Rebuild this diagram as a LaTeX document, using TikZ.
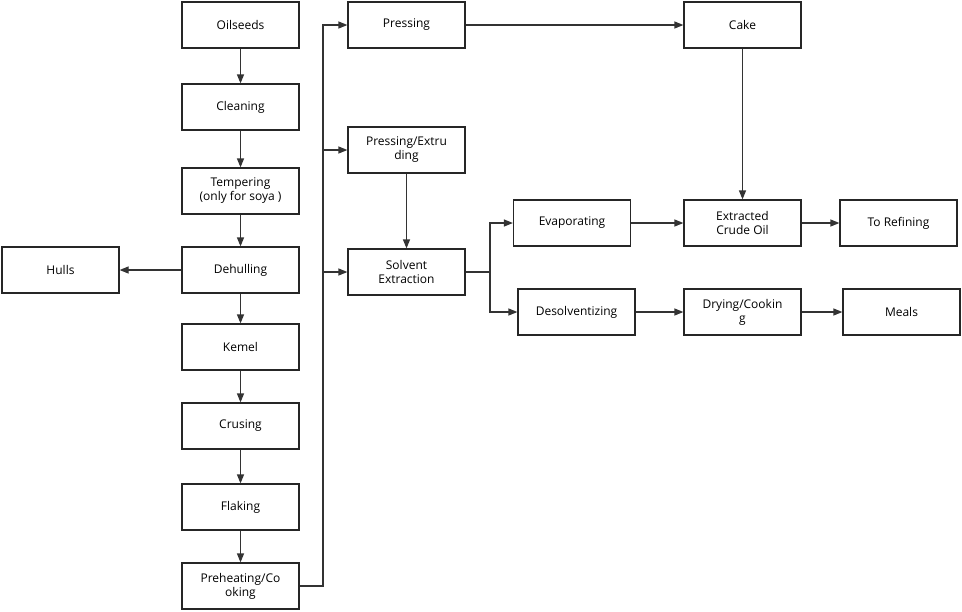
\documentclass[tikz,border=0pt]{standalone}
\usepackage{fontspec}
\setmainfont{Open Sans}
\usetikzlibrary{arrows.meta}
\tikzset{
  box/.style={draw=black!85, line width=1.2pt, minimum width=117pt, minimum height=46pt,
    align=center, inner sep=1pt, font=\fontsize{12}{14}\selectfont},
  flow/.style={-{Triangle[length=9pt,width=7pt]}, draw=black!80, line width=1.2pt}
}
\begin{document}
\begin{tikzpicture}[x=1pt,y=-1pt]
\useasboundingbox (0,0) rectangle (962,611);
% left column
\node (oil)   at (240.5,25)  [box] {Oilseeds};
\node (clean) at (240.5,107) [box] {Cleaning};
\node (temp)  at (240.5,191) [box] {Tempering\\(only for soya )};
\node (dehul) at (240.5,270) [box] {Dehulling};
\node (kern)  at (240.5,347) [box] {Kemel};
\node (crus)  at (240.5,426) [box] {Crusing};
\node (flak)  at (240.5,507) [box] {Flaking};
\node (preh)  at (240.5,586) [box] {Preheating/Co\\oking};
\node (hull)  at (60.5,270)  [box] {Hulls};
% middle
\node (press) at (406.5,25)  [box] {Pressing};
\node (extr)  at (406.5,150) [box] {Pressing/Extru\\ding};
\node (solv)  at (406.5,272) [box] {Solvent\\Extraction};
% right
\node (cake)  at (742.5,25)  [box] {Cake};
\node (evap)  at (572,223)   [box] {Evaporating};
\node (crude) at (742.5,223) [box] {Extracted\\Crude Oil};
\node (refin) at (898.5,223) [box] {To Refining};
\node (desol) at (576.5,312) [box] {Desolventizing};
\node (dry)   at (742.5,312) [box] {Drying/Cookin\\g};
\node (meal)  at (901.5,312) [box] {Meals};

% bus lines
\coordinate (busA) at (323,586);
\coordinate (busB) at (490,272);

\draw[flow] (oil) -- (clean);
\draw[flow] (clean) -- (temp);
\draw[flow] (temp) -- (dehul);
\draw[flow] (dehul) -- (kern);
\draw[flow] (kern) -- (crus);
\draw[flow] (crus) -- (flak);
\draw[flow] (flak) -- (preh);
\draw[flow] (dehul) -- (hull);

\draw[flow] (preh.east) -| (busA |- press.west) -- (press.west);
\draw[flow] (busA |- extr.west) -- (extr.west);
\draw[flow] (busA |- solv.west) -- (solv.west);

\draw[flow] (press) -- (cake);
\draw[flow] (extr) -- (solv);
\draw[flow] (solv.east) -- (busB) |- (evap.west);
\draw[flow] (busB) |- (desol.west);
\draw[flow] (cake) -- (crude);
\draw[flow] (evap) -- (crude);
\draw[flow] (crude) -- (refin);
\draw[flow] (desol) -- (dry);
\draw[flow] (dry) -- (meal);
\end{tikzpicture}
\end{document}
